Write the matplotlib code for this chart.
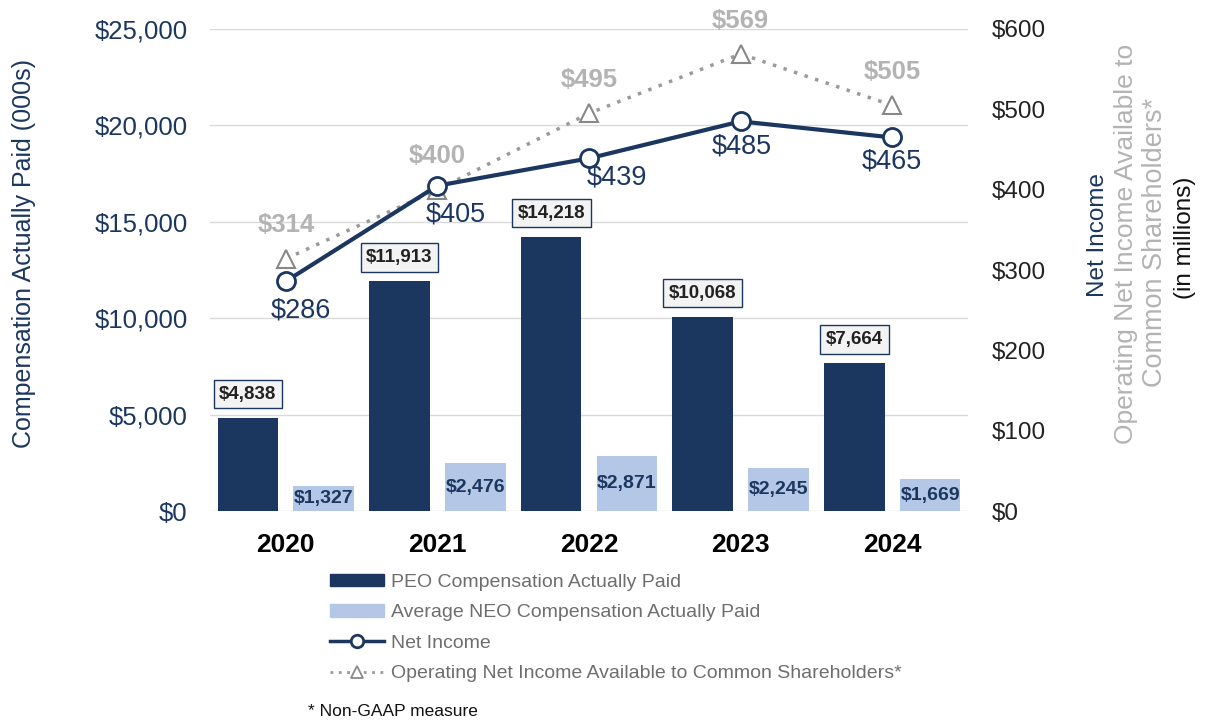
import numpy as np
import matplotlib.pyplot as plt
from matplotlib.lines import Line2D
from matplotlib.patches import Patch

plt.rcParams['font.family'] = ['Liberation Sans', 'DejaVu Sans']

years = ["2020", "2021", "2022", "2023", "2024"]
peo_cap = [4838, 11913, 14218, 10068, 7664]
neo_cap = [1327, 2476, 2871, 2245, 1669]
net_income = [286, 405, 439, 485, 465]
op_net_income = [314, 400, 495, 569, 505]

navy = "#1c375f"
light = "#b4c7e7"
gray_txt = "#b3b3b3"
gray_mk = "#888888"

fig = plt.figure(figsize=(12.07, 7.24), dpi=100)
ax = fig.add_axes([0.174, 0.294, 0.628, 0.666])
ax2 = ax.twinx()

x = np.arange(len(years))
w = 0.4
ax.bar(x - 0.25, peo_cap, w, color=navy, zorder=2)
ax.bar(x + 0.25, neo_cap, w, color=light, zorder=2)

for xi, v in zip(x, peo_cap):
    ax.annotate(f"${v:,}", (xi - 0.25, v), xytext=(0, 11), textcoords="offset points",
                ha="center", va="bottom", fontsize=13.5, fontweight="bold", color="#222222",
                bbox=dict(boxstyle="square,pad=0.3", fc="#f3f3f3", ec=navy, lw=1))
for xi, v in zip(x, neo_cap):
    ax.text(xi + 0.25, v / 2, f"${v:,}", ha="center", va="center", fontsize=14,
            fontweight="bold", color=navy, zorder=3)

ax.set_xlim(-0.5, 4.5)
ax.set_ylim(0, 25000)
ax.set_yticks(range(0, 25001, 5000))
ax.set_yticklabels([f"${t:,}" for t in range(0, 25001, 5000)])
ax.grid(axis="y", color="#d9d9d9", lw=1, zorder=0)
ax.set_axisbelow(True)
ax.set_xticks(x)
ax.set_xticklabels(years, fontsize=19, fontweight="bold")
ax.tick_params(axis="x", length=0, pad=16)
ax.tick_params(axis="y", length=0, labelsize=18.5, labelcolor=navy, pad=16)
for s in ax.spines.values():
    s.set_visible(False)
for s in ax2.spines.values():
    s.set_visible(False)

fig.text(24 / 1207, 1 - 253 / 724, "Compensation Actually Paid (000s)", rotation=90,
         ha="center", va="center", fontsize=18, color=navy)

ax2.set_ylim(0, 600)
ax2.set_yticks(range(0, 601, 100))
ax2.set_yticklabels([f"${t}" for t in range(0, 601, 100)])
ax2.tick_params(axis="y", length=0, labelsize=17.5, labelcolor="#222222", pad=17)

ax2.plot(x, op_net_income, ls=(0, (1, 2.2)), lw=2.5, color="#9a9a9a", marker="^",
         ms=13, mfc="white", mec=gray_mk, mew=1.5, zorder=3)
ax2.plot(x, net_income, lw=3, color=navy, marker="o", ms=13, mfc="white",
         mec=navy, mew=2, zorder=4)

ni_off = [(11, -21), (13, -21), (20, -14), (1, -18), (0, -17)]
for xi, v, off in zip(x, net_income, ni_off):
    ax2.annotate(f"${v}", (xi, v), xytext=off, textcoords="offset points",
                 ha="center", va="center", fontsize=19.5, color=navy)
for xi, v in zip(x, op_net_income):
    ax2.annotate(f"${v}", (xi, v), xytext=(0, 24), textcoords="offset points",
                 ha="center", va="center", fontsize=18.5, fontweight="bold", color=gray_txt)

fig.text(1098 / 1207, 1 - 235 / 724, "Net Income", rotation=90, ha="center", va="center",
         fontsize=17.5, color=navy)
fig.text(1126 / 1207, 1 - 244 / 724, "Operating Net Income Available to", rotation=90,
         ha="center", va="center", fontsize=19, color=gray_txt)
fig.text(1155 / 1207, 1 - 242 / 724, "Common Shareholders*", rotation=90, ha="center",
         va="center", fontsize=19.5, color=gray_txt)
fig.text(1185 / 1207, 1 - 238 / 724, "(in millions)", rotation=90, ha="center", va="center",
         fontsize=17.5, color="#111111")

handles = [
    Patch(facecolor=navy, edgecolor=navy),
    Patch(facecolor=light, edgecolor=light),
    Line2D([], [], color=navy, lw=2.5, marker="o", ms=9, mfc="white", mec=navy, mew=2),
    Line2D([], [], color="#9a9a9a", lw=2, ls=(0, (1, 2)), marker="^", ms=9,
           mfc="white", mec=gray_mk, mew=1.3),
]
labels = ["PEO Compensation Actually Paid", "Average NEO Compensation Actually Paid",
          "Net Income", "Operating Net Income Available to Common Shareholders*"]
leg = fig.legend(handles, labels, loc="upper left", bbox_to_anchor=(322 / 1207, 1 - 566 / 724),
                 frameon=False, fontsize=14, handlelength=2.8, handleheight=0.6,
                 handletextpad=0.35, labelspacing=0.69, numpoints=1, borderaxespad=0)
for t in leg.get_texts():
    t.set_color("#6e6e6e")

fig.text(308 / 1207, 1 - 711 / 724, "* Non-GAAP measure", ha="left", va="center",
         fontsize=12.5, color="#111111")

fig.savefig("out.png", dpi=100)
